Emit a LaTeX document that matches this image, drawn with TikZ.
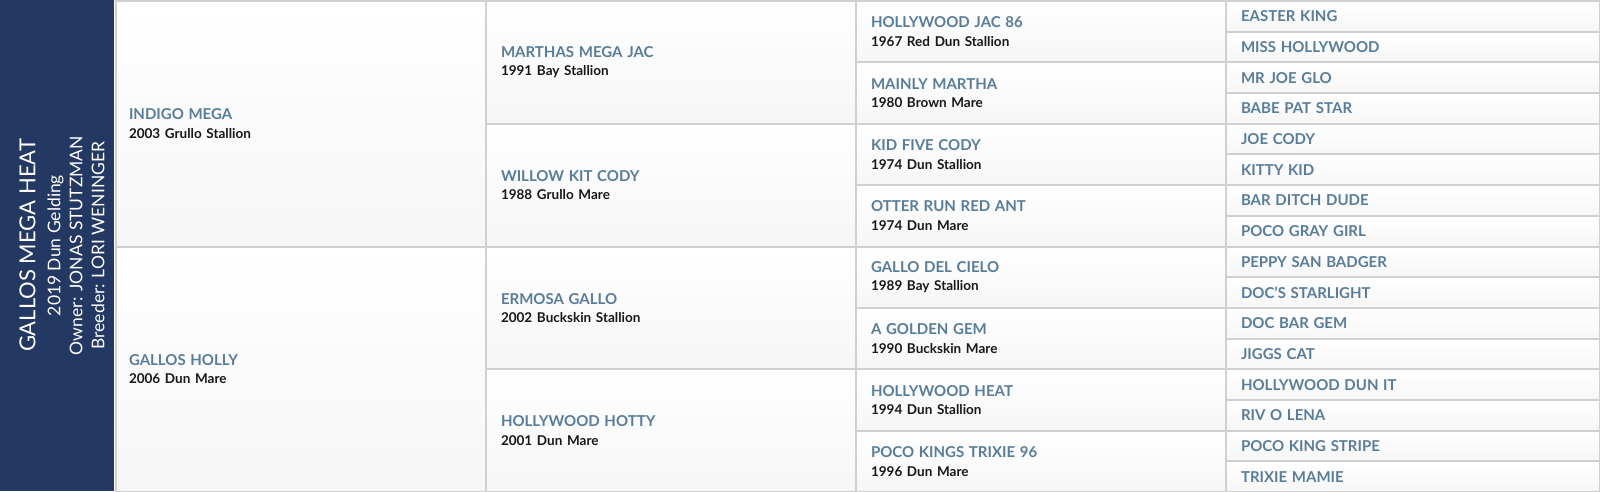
\documentclass[tikz,border=0pt]{standalone}
\usepackage{fontspec}
\setmainfont{Lato}
\usepackage{tikz}
\usetikzlibrary{calc}
\definecolor{ped_navy}{RGB}{35, 57, 99}
\definecolor{ped_steel}{RGB}{88, 125, 155}
\definecolor{ped_line}{RGB}{208, 208, 208}
\definecolor{ped_shade}{RGB}{246, 246, 246}
\definecolor{ped_ink}{RGB}{24, 24, 24}
\newcommand{\hnm}[1]{{\fontsize{15}{18.5}\selectfont\bfseries\color{ped_steel}#1}}
\newcommand{\hinfo}[1]{{\fontsize{13.5}{18.5}\selectfont\bfseries\color{ped_ink}#1}}
\tikzstyle{panel}=[rectangle,anchor=north west,fill=ped_navy,inner sep=0pt,
  minimum width=114pt,minimum height=491pt]
\tikzstyle{ttl}=[rotate=90,text=white,align=center,inner sep=0pt,
  font=\fontsize{17.5}{22}\selectfont]
\tikzstyle{cell}=[rectangle,anchor=north west,draw=ped_line,line width=2pt,
  top color=white,bottom color=ped_shade,inner xsep=13pt,inner ysep=0pt,
  text width=344pt,align=left,font=\fontsize{14}{18.5}\selectfont]
\tikzstyle{g1}=[cell,minimum height=245.5pt]
\tikzstyle{g2}=[cell,minimum height=122.75pt,inner xsep=15pt,text width=340pt]
\tikzstyle{g3}=[cell,minimum height=61.375pt,inner xsep=15pt,text width=340pt]
\tikzstyle{g4}=[cell,minimum height=30.6875pt,inner xsep=15pt,text width=344pt]

\begin{document}
\begin{tikzpicture}[x=1pt,y=-1pt]
            \useasboundingbox (0, 0) rectangle (1600, 491);
            \node [style=panel] (0) at (0, 0) {};
            \node [style=ttl] (1) at (62, 245.5) {{\fontsize{22}{25}\selectfont GALLOS MEGA HEAT}\\[3pt]
              2019 Dun Gelding\\Owner: JONAS STUTZMAN\\Breeder: LORI WENINGER};
            \node [style=g1] (2) at (115, 0) {\hnm{INDIGO MEGA}\\\hinfo{2003 Grullo Stallion}};
            \node [style=g1] (3) at (115, 245.5) {\hnm{GALLOS HOLLY}\\\hinfo{2006 Dun Mare}};
            \node [style=g2] (4) at (485, 0) {\hnm{MARTHAS MEGA JAC}\\\hinfo{1991 Bay Stallion}};
            \node [style=g2] (5) at (485, 122.75) {\hnm{WILLOW KIT CODY}\\\hinfo{1988 Grullo Mare}};
            \node [style=g2] (6) at (485, 245.5) {\hnm{ERMOSA GALLO}\\\hinfo{2002 Buckskin Stallion}};
            \node [style=g2] (7) at (485, 368.25) {\hnm{HOLLYWOOD HOTTY}\\\hinfo{2001 Dun Mare}};
            \node [style=g3] (8) at (855, 0) {\hnm{HOLLYWOOD JAC 86}\\\hinfo{1967 Red Dun Stallion}};
            \node [style=g3] (9) at (855, 61.375) {\hnm{MAINLY MARTHA}\\\hinfo{1980 Brown Mare}};
            \node [style=g3] (10) at (855, 122.75) {\hnm{KID FIVE CODY}\\\hinfo{1974 Dun Stallion}};
            \node [style=g3] (11) at (855, 184.125) {\hnm{OTTER RUN RED ANT}\\\hinfo{1974 Dun Mare}};
            \node [style=g3] (12) at (855, 245.5) {\hnm{GALLO DEL CIELO}\\\hinfo{1989 Bay Stallion}};
            \node [style=g3] (13) at (855, 306.875) {\hnm{A GOLDEN GEM}\\\hinfo{1990 Buckskin Mare}};
            \node [style=g3] (14) at (855, 368.25) {\hnm{HOLLYWOOD HEAT}\\\hinfo{1994 Dun Stallion}};
            \node [style=g3] (15) at (855, 429.625) {\hnm{POCO KINGS TRIXIE 96}\\\hinfo{1996 Dun Mare}};
            \node [style=g4] (16) at (1225, 0) {\hnm{EASTER KING}};
            \node [style=g4] (17) at (1225, 30.6875) {\hnm{MISS HOLLYWOOD}};
            \node [style=g4] (18) at (1225, 61.375) {\hnm{MR JOE GLO}};
            \node [style=g4] (19) at (1225, 92.0625) {\hnm{BABE PAT STAR}};
            \node [style=g4] (20) at (1225, 122.75) {\hnm{JOE CODY}};
            \node [style=g4] (21) at (1225, 153.4375) {\hnm{KITTY KID}};
            \node [style=g4] (22) at (1225, 184.125) {\hnm{BAR DITCH DUDE}};
            \node [style=g4] (23) at (1225, 214.8125) {\hnm{POCO GRAY GIRL}};
            \node [style=g4] (24) at (1225, 245.5) {\hnm{PEPPY SAN BADGER}};
            \node [style=g4] (25) at (1225, 276.1875) {\hnm{DOC'S STARLIGHT}};
            \node [style=g4] (26) at (1225, 306.875) {\hnm{DOC BAR GEM}};
            \node [style=g4] (27) at (1225, 337.5625) {\hnm{JIGGS CAT}};
            \node [style=g4] (28) at (1225, 368.25) {\hnm{HOLLYWOOD DUN IT}};
            \node [style=g4] (29) at (1225, 398.9375) {\hnm{RIV O LENA}};
            \node [style=g4] (30) at (1225, 429.625) {\hnm{POCO KING STRIPE}};
            \node [style=g4] (31) at (1225, 460.3125) {\hnm{TRIXIE MAMIE}};
    \end{tikzpicture}
\end{document}
